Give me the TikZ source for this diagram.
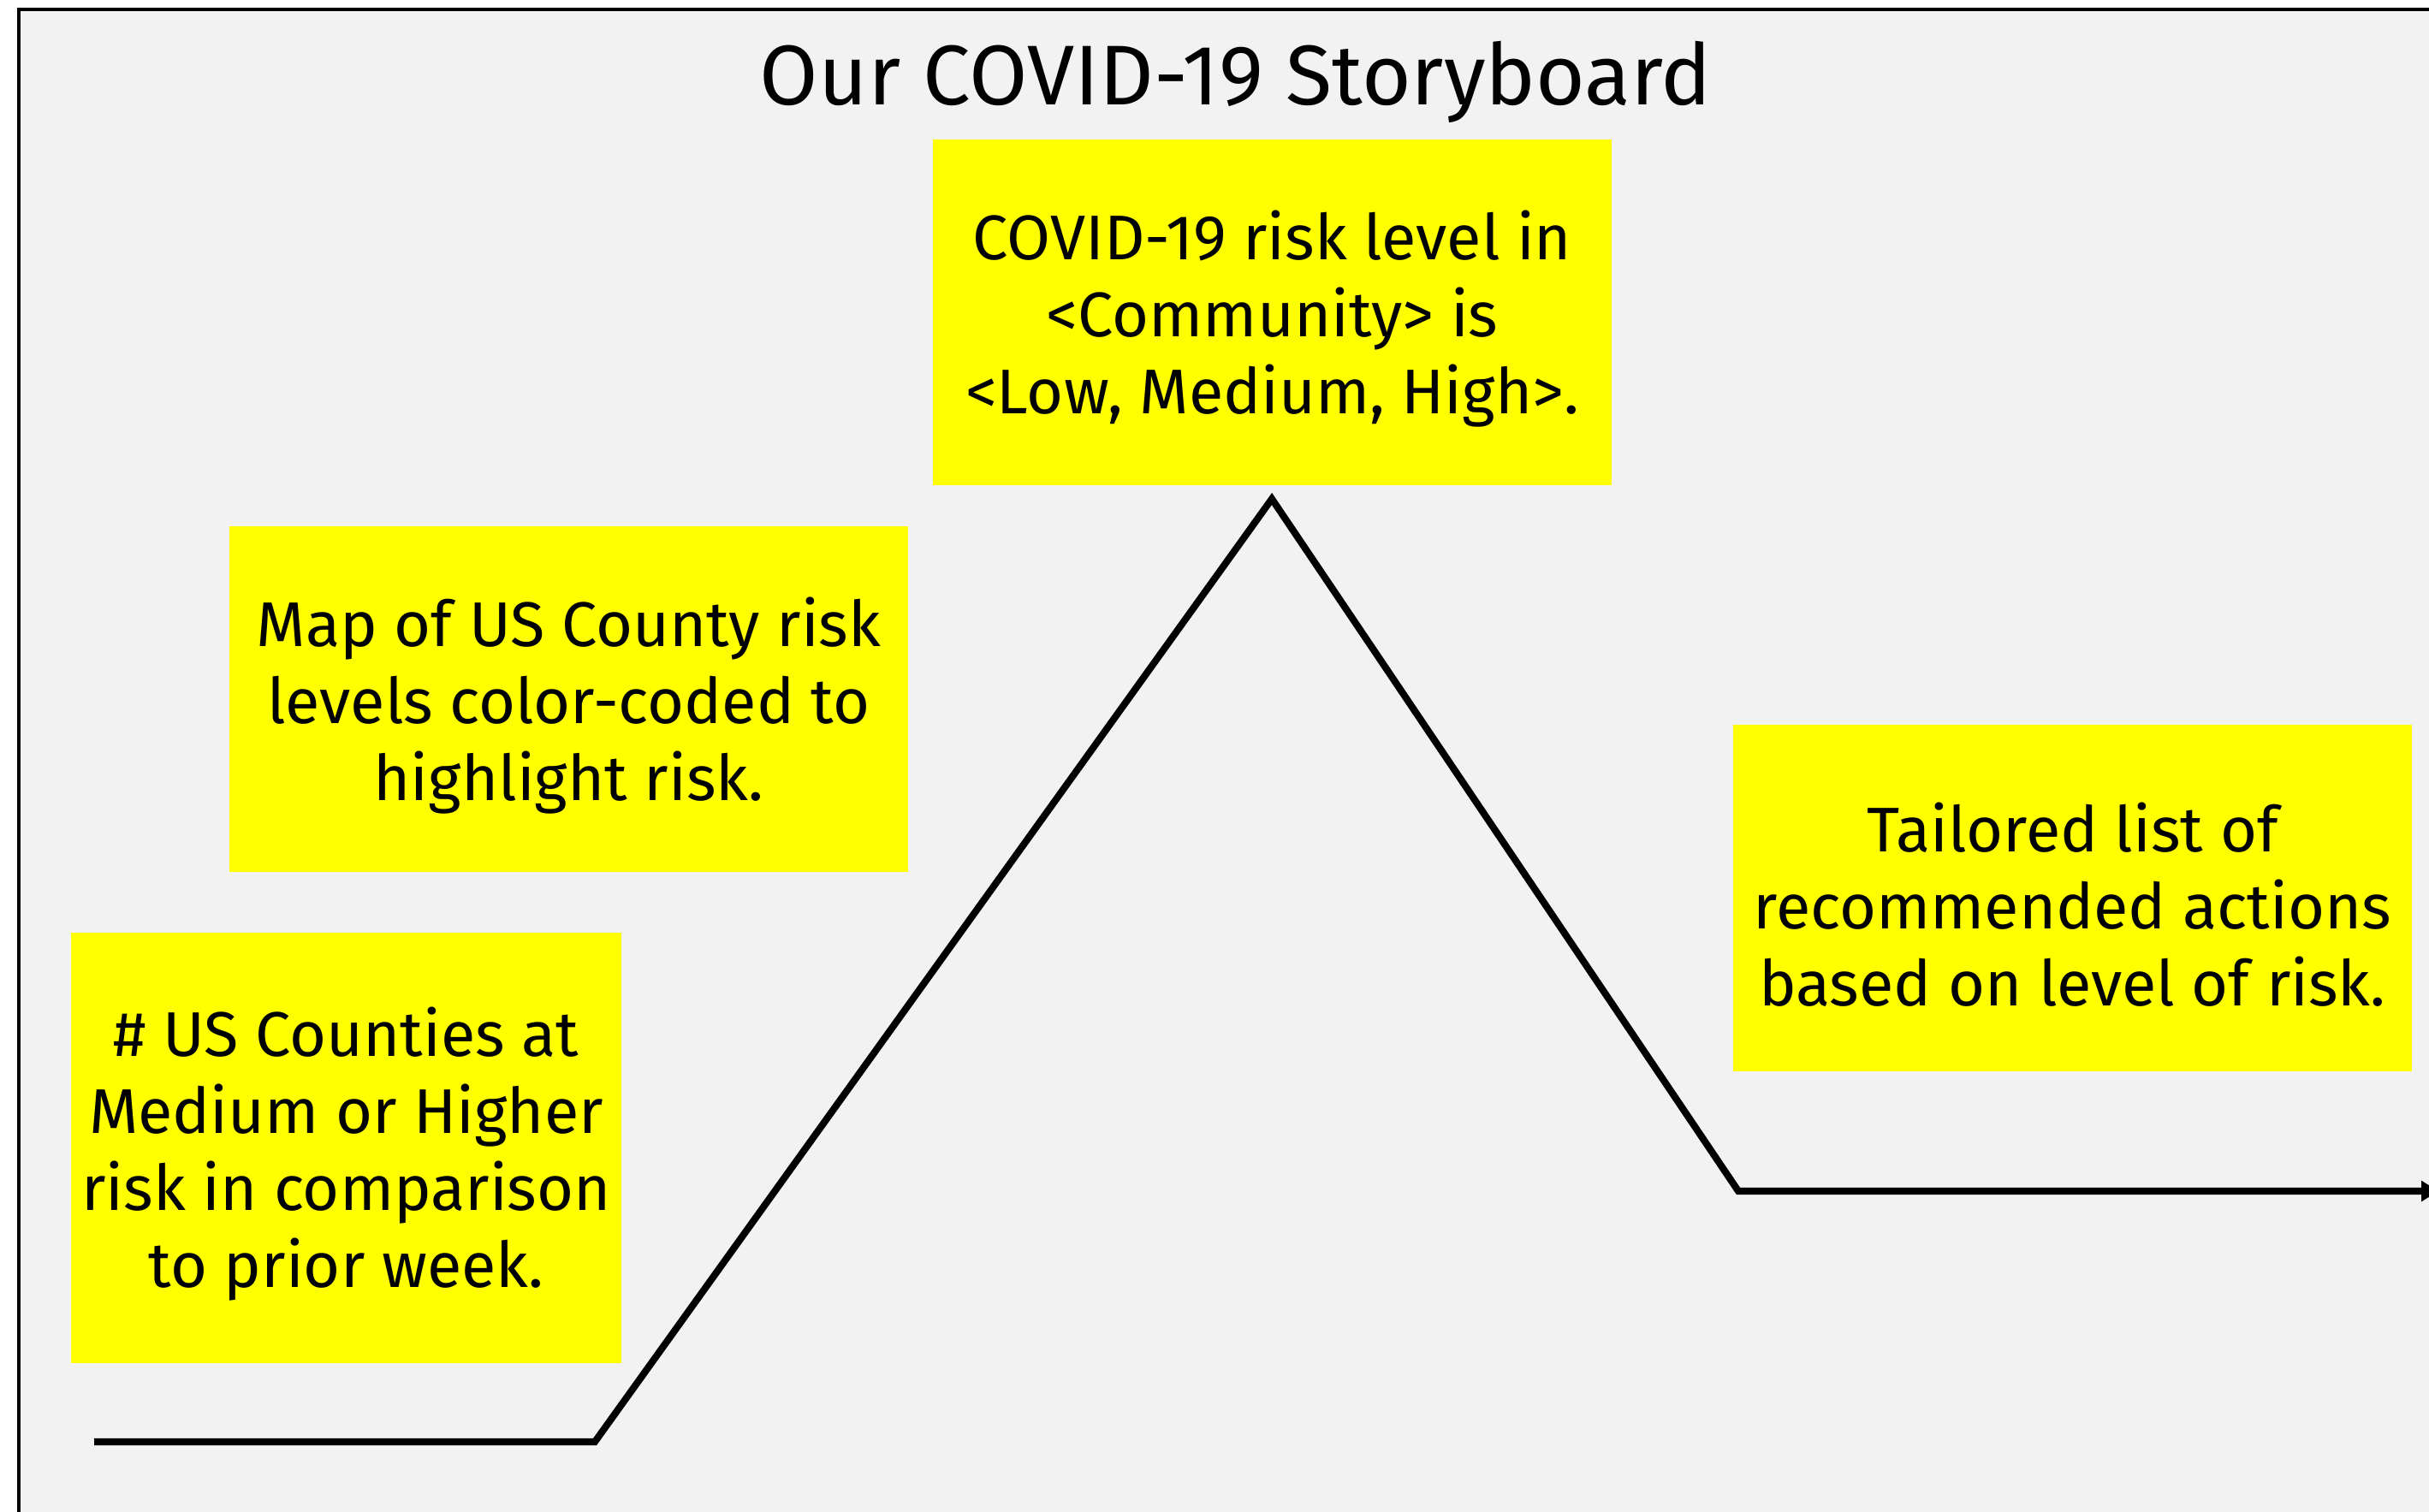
\documentclass[tikz,border=0pt]{standalone}
\usepackage{fontspec}
\usetikzlibrary{arrows.meta}
\setmainfont{Fira Sans}
\definecolor{boardgray}{HTML}{F2F2F2}
\definecolor{noteyellow}{HTML}{FFFF00}
\newcommand{\gap}{\rule{0pt}{0.72cm}}
\begin{document}
\begin{tikzpicture}[->,>={Latex[length=0.26cm,width=0.26cm]}]
\tikzset{BoxStyle/.style = {fill=noteyellow, align=center, inner sep=0pt,
  font=\fontsize{21}{25.6}\selectfont}}
\useasboundingbox (0,0) rectangle (28.38,-17.67);
\fill[white] (0,0) rectangle (28.38,-17.67);
\draw[-,fill=boardgray,line width=1pt] (0.22,-0.11) rectangle (28.9,-18.3);
\node(t) [anchor=base, font=\fontsize{28.2}{34}\selectfont] at (14.44,-1.23) {Our COVID-19 Storyboard};
\node(b1) [BoxStyle, minimum width=6.43cm, minimum height=5.03cm] at (4.045,-13.415)
  {\gap\# US Counties at\\Medium or Higher\\risk in comparison\\to prior week.};
\node(b2) [BoxStyle, minimum width=7.93cm, minimum height=4.04cm] at (6.645,-8.17)
  {\gap Map of US County risk\\levels color-coded to\\highlight risk.};
\node(b3) [BoxStyle, minimum width=7.93cm, minimum height=4.04cm] at (14.865,-3.65)
  {\gap COVID-19 risk level in\\<Community> is\\<Low, Medium, High>.};
\node(b4) [BoxStyle, minimum width=7.93cm, minimum height=4.05cm] at (24.215,-10.495)
  {\gap Tailored list of\\recommended actions\\based on level of risk.};
\coordinate(p1) at (1.10,-16.85); \coordinate(p2) at (6.95,-16.85);
\coordinate(p3) at (14.86,-5.83); \coordinate(p4) at (20.31,-13.92);
\coordinate(p5) at (28.55,-13.92);
\draw[line width=2.3pt] (p1) -- (p2) -- (p3) -- (p4) -- (p5);
\end{tikzpicture}
\end{document}
